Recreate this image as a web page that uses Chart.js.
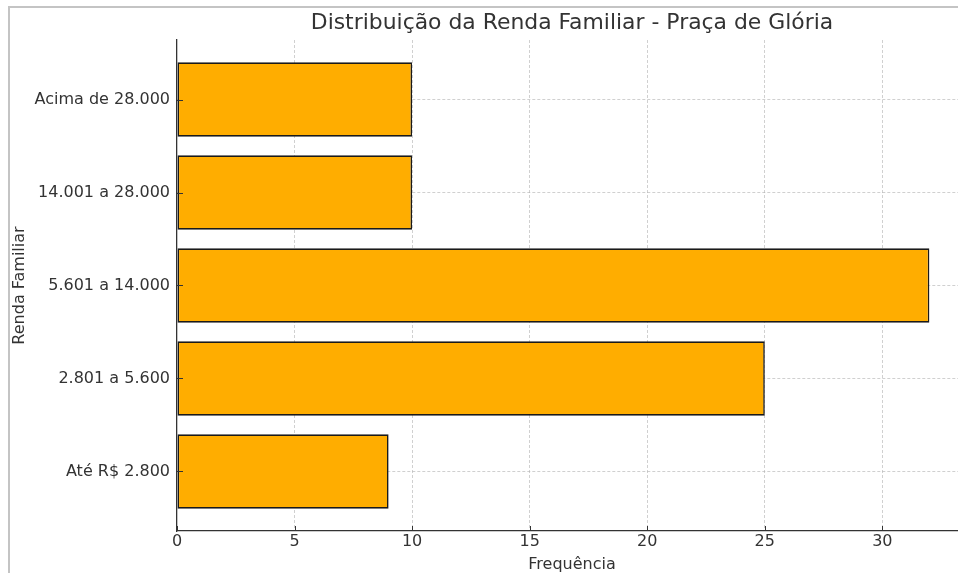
<!DOCTYPE html>
<html lang="pt-BR">
<head>
  <meta charset="UTF-8">
  <title>Distribuição da Renda Familiar - Praça de Glória</title>
  <script src="https://cdn.jsdelivr.net/npm/chart.js"></script>
  <style>
    html, body {
      margin: 0;
      padding: 0;
      background: #fff;
      overflow: hidden;
    }
    .frame {
      position: absolute;
      left: 8px;
      top: 6px;
      width: 1200px;
      height: 800px;
      border-left: 2px solid #c4c4c4;
      border-top: 2px solid #c4c4c4;
    }
    .wrap {
      position: absolute;
      left: 0;
      top: 0;
      width: 980px;
      height: 600px;
    }
  </style>
</head>
<body>
  <div class="frame"></div>
  <div class="wrap"><canvas id="rendaChart"></canvas></div>

  <script>
    // dados
    const categories = ['Até R$ 2.800', '2.801 a 5.600', '5.601 a 14.000', '14.001 a 28.000', 'Acima de 28.000'];
    const frequencies = [9, 25, 32, 10, 10];
    const xTicks = [0, 5, 10, 15, 20, 25, 30];
    const chartTitle = 'Distribuição da Renda Familiar - Praça de Glória';

    const textColor = '#333';
    const gridColor = 'rgba(176,176,176,0.6)';
    Chart.defaults.font.family = '"DejaVu Sans", sans-serif';

    // title centred over the plot area, like matplotlib does
    const plotTitle = {
      id: 'plotTitle',
      afterDraw(chart) {
        const { ctx, chartArea } = chart;
        ctx.save();
        ctx.font = '21.9px "DejaVu Sans"';
        ctx.fillStyle = textColor;
        ctx.textAlign = 'center';
        ctx.textBaseline = 'alphabetic';
        ctx.fillText(chartTitle, (chartArea.left + chartArea.right) / 2, chartArea.top - 11);
        ctx.restore();
      }
    };

    // short tick marks pointing into the plot
    const innerTicks = {
      id: 'innerTicks',
      afterDraw(chart) {
        const { ctx, chartArea, scales } = chart;
        ctx.save();
        ctx.strokeStyle = textColor;
        ctx.lineWidth = 1;
        ctx.beginPath();
        scales.x.ticks.forEach((t, i) => {
          const px = Math.round(scales.x.getPixelForTick(i)) + 0.5;
          ctx.moveTo(px, chartArea.bottom);
          ctx.lineTo(px, chartArea.bottom - 5);
        });
        scales.y.ticks.forEach((t, i) => {
          const py = Math.round(scales.y.getPixelForTick(i)) + 0.5;
          ctx.moveTo(chartArea.left, py);
          ctx.lineTo(chartArea.left + 6, py);
        });
        ctx.stroke();
        ctx.restore();
      }
    };

    const ctx = document.getElementById('rendaChart').getContext('2d');

    new Chart(ctx, {
      type: 'bar',
      data: {
        datasets: [{
          data: frequencies.map((v, i) => ({ x: v, y: i })),
          backgroundColor: '#ffad00',
          borderColor: '#1a1a1a',
          borderWidth: 1.6,
          borderSkipped: false,
          barPercentage: 0.8,
          categoryPercentage: 1
        }]
      },
      options: {
        indexAxis: 'y',
        responsive: true,
        maintainAspectRatio: false,
        devicePixelRatio: 1,
        animation: false,
        layout: { padding: { top: 40, right: 13, bottom: 26, left: 0 } },
        plugins: {
          legend: { display: false },
          tooltip: { enabled: false }
        },
        scales: {
          x: {
            type: 'linear',
            min: 0,
            max: 33.6,
            z: 1,
            afterBuildTicks: s => { s.ticks = xTicks.map(v => ({ value: v })); },
            afterFit: s => { s.height = 43; },
            grid: {
              color: c => (c.tick && c.tick.value === 0 ? 'transparent' : gridColor),
              lineWidth: 1,
              drawTicks: false
            },
            border: { display: true, color: textColor, width: 1.3, dash: [3, 2] },
            ticks: { padding: 1, color: textColor, font: { size: 16 }, autoSkip: false },
            title: {
              display: true,
              text: 'Frequência',
              color: textColor,
              font: { size: 16 },
              padding: { top: 0, bottom: 0 }
            }
          },
          y: {
            type: 'linear',
            min: -0.64,
            max: 4.64,
            offset: false,
            z: 1,
            afterBuildTicks: s => { s.ticks = categories.map((c, i) => ({ value: i })); },
            afterFit: s => { s.width = 177; },
            grid: { color: gridColor, lineWidth: 1, drawTicks: false, offset: false },
            border: { display: true, color: textColor, width: 1.3, dash: [3, 2] },
            ticks: {
              callback: v => categories[v],
              padding: 7,
              color: textColor,
              font: { size: 16 },
              autoSkip: false
            },
            title: {
              display: true,
              text: 'Renda Familiar',
              color: textColor,
              font: { size: 16 },
              padding: { top: 10, bottom: 0 }
            }
          }
        }
      },
      plugins: [plotTitle, innerTicks]
    });
  </script>
</body>
</html>
